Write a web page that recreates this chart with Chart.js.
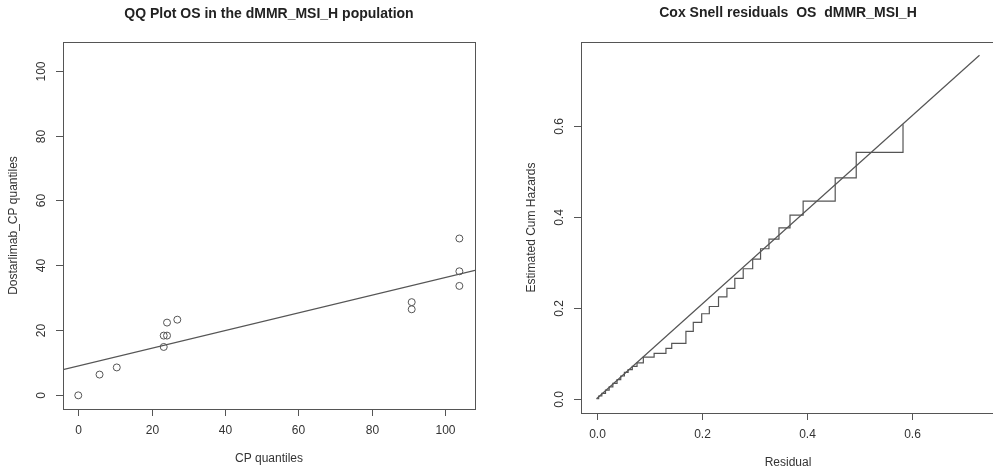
<!DOCTYPE html>
<html>
<head>
<meta charset="utf-8">
<script src="https://cdn.jsdelivr.net/npm/chart.js@4"></script>
<style>
  html, body { margin: 0; padding: 0; background: #fff; overflow: hidden; }
  #wrap { position: relative; width: 993px; height: 470px; overflow: hidden; }
  #qqChart { position: absolute; left: 0; top: 0; }
  #coxChart { position: absolute; left: 490px; top: 0; }
</style>
</head>
<body>
<div id="wrap">
  <canvas id="qqChart" width="490" height="470"></canvas>
  <canvas id="coxChart" width="510" height="470"></canvas>
</div>
<script>
// left panel: QQ plot
var cpQuantiles = [0, 5.8, 10.5, 23.3, 23.3, 24.2, 24.2, 27.0, 90.9, 90.9, 103.9, 103.9, 103.9];
var dostQuantiles = [0, 6.4, 8.6, 14.9, 18.4, 18.4, 22.4, 23.3, 28.7, 26.5, 48.3, 38.2, 33.7];
var qqLineX = [-4.16, 108.16];
var qqLineY = [7.92, 38.47];
var qqTicks = [0, 20, 40, 60, 80, 100];

// right panel: Cox Snell residuals (jump points of cum hazard)
var residJump = [0, 0.004, 0.010, 0.017, 0.024, 0.031, 0.039, 0.046, 0.053, 0.060, 0.068, 0.077,
  0.089, 0.1095, 0.132, 0.143, 0.170, 0.184, 0.200, 0.2145, 0.232, 0.248, 0.263, 0.279,
  0.297, 0.312, 0.328, 0.347, 0.368, 0.393, 0.454, 0.494, 0.583];
var cumHaz = [0, 0.006, 0.012, 0.019, 0.026, 0.034, 0.042, 0.050, 0.058, 0.064, 0.071, 0.079,
  0.0916, 0.100, 0.111, 0.122, 0.148, 0.168, 0.187, 0.203, 0.224, 0.243, 0.265, 0.286,
  0.307, 0.330, 0.351, 0.376, 0.404, 0.435, 0.486, 0.542, 0.604];
var refLineX = [0, 0.7285];
var refLineY = [0, 0.756];
var coxTicks = [0, 0.2, 0.4, 0.6];

var FONT = "'Liberation Sans', Arial, sans-serif";
var INK = "#333";
var LINE = "#555";

function toPoints(xs, ys) {
  return xs.map(function (x, i) { return { x: x, y: ys[i] }; });
}

// R-style frame, ticks and labels drawn from the chart's own scales
function rAxes(opts) {
  return {
    id: "rAxes",
    afterDraw: function (chart) {
      var ctx = chart.ctx, a = chart.chartArea;
      var xs = chart.scales.x, ys = chart.scales.y;
      ctx.save();
      ctx.strokeStyle = LINE;
      ctx.lineWidth = 1;
      ctx.strokeRect(Math.round(a.left) + 0.5, Math.round(a.top) + 0.5,
        Math.round(a.right - a.left), Math.round(a.bottom - a.top));

      ctx.fillStyle = INK;
      ctx.font = "12px " + FONT;
      ctx.textAlign = "center";
      ctx.textBaseline = "middle";
      opts.xTicks.forEach(function (t) {
        var px = Math.round(xs.getPixelForValue(t)) + 0.5;
        ctx.beginPath();
        ctx.moveTo(px, a.bottom);
        ctx.lineTo(px, a.bottom + 7);
        ctx.stroke();
        ctx.fillText(opts.fmt(t), px, a.bottom + 22);
      });
      opts.yTicks.forEach(function (t) {
        var py = Math.round(ys.getPixelForValue(t)) + 0.5;
        ctx.beginPath();
        ctx.moveTo(a.left, py);
        ctx.lineTo(a.left - 7, py);
        ctx.stroke();
        ctx.save();
        ctx.translate(a.left - 21, py);
        ctx.rotate(-Math.PI / 2);
        ctx.fillText(opts.fmt(t), 0, 0);
        ctx.restore();
      });

      var cx = (a.left + a.right) / 2, cy = (a.top + a.bottom) / 2;
      ctx.fillText(opts.xTitle, cx, a.bottom + 50);
      ctx.save();
      ctx.translate(a.left - 49, cy);
      ctx.rotate(-Math.PI / 2);
      ctx.fillText(opts.yTitle, 0, 0);
      ctx.restore();

      ctx.font = "bold 14px " + FONT;
      ctx.fillStyle = "#222";
      ctx.fillText(opts.title, cx, opts.titleY);
      ctx.restore();
    }
  };
}

var commonOpts = {
  responsive: false,
  animation: false,
  plugins: { legend: { display: false }, tooltip: { enabled: false } }
};

new Chart("qqChart", {
  type: "scatter",
  data: {
    datasets: [
      {
        data: toPoints(cpQuantiles, dostQuantiles),
        pointStyle: "circle",
        pointRadius: 3.5,
        pointBorderWidth: 1,
        pointBorderColor: LINE,
        pointBackgroundColor: "rgba(0,0,0,0)",
        showLine: false
      },
      {
        data: toPoints(qqLineX, qqLineY),
        showLine: true,
        borderColor: LINE,
        borderWidth: 1.2,
        pointRadius: 0
      }
    ]
  },
  options: Object.assign({}, commonOpts, {
    layout: { padding: { left: 63, right: 15, top: 42, bottom: 61 } },
    scales: {
      x: { type: "linear", display: false, min: -4.16, max: 108.16 },
      y: { type: "linear", display: false, min: -4.2, max: 108.8 }
    }
  }),
  plugins: [rAxes({
    xTicks: qqTicks, yTicks: qqTicks,
    fmt: function (v) { return String(v); },
    xTitle: "CP quantiles",
    yTitle: "Dostarlimab_CP quantiles",
    title: "QQ Plot OS in the dMMR_MSI_H population",
    titleY: 14
  })]
});

new Chart("coxChart", {
  type: "scatter",
  data: {
    datasets: [
      {
        data: toPoints(residJump, cumHaz),
        showLine: true,
        stepped: "before",
        borderColor: LINE,
        borderWidth: 1.2,
        pointRadius: 0
      },
      {
        data: toPoints(refLineX, refLineY),
        showLine: true,
        borderColor: LINE,
        borderWidth: 1.2,
        pointRadius: 0
      }
    ]
  },
  options: Object.assign({}, commonOpts, {
    layout: { padding: { left: 91, right: 5, top: 42, bottom: 57 } },
    scales: {
      x: { type: "linear", display: false, min: -0.0296, max: 0.758 },
      y: { type: "linear", display: false, min: -0.0314, max: 0.785 }
    }
  }),
  plugins: [rAxes({
    xTicks: coxTicks, yTicks: coxTicks,
    fmt: function (v) { return v.toFixed(1); },
    xTitle: "Residual",
    yTitle: "Estimated Cum Hazards",
    title: "Cox Snell residuals  OS  dMMR_MSI_H",
    titleY: 13
  })]
});
</script>
</body>
</html>
